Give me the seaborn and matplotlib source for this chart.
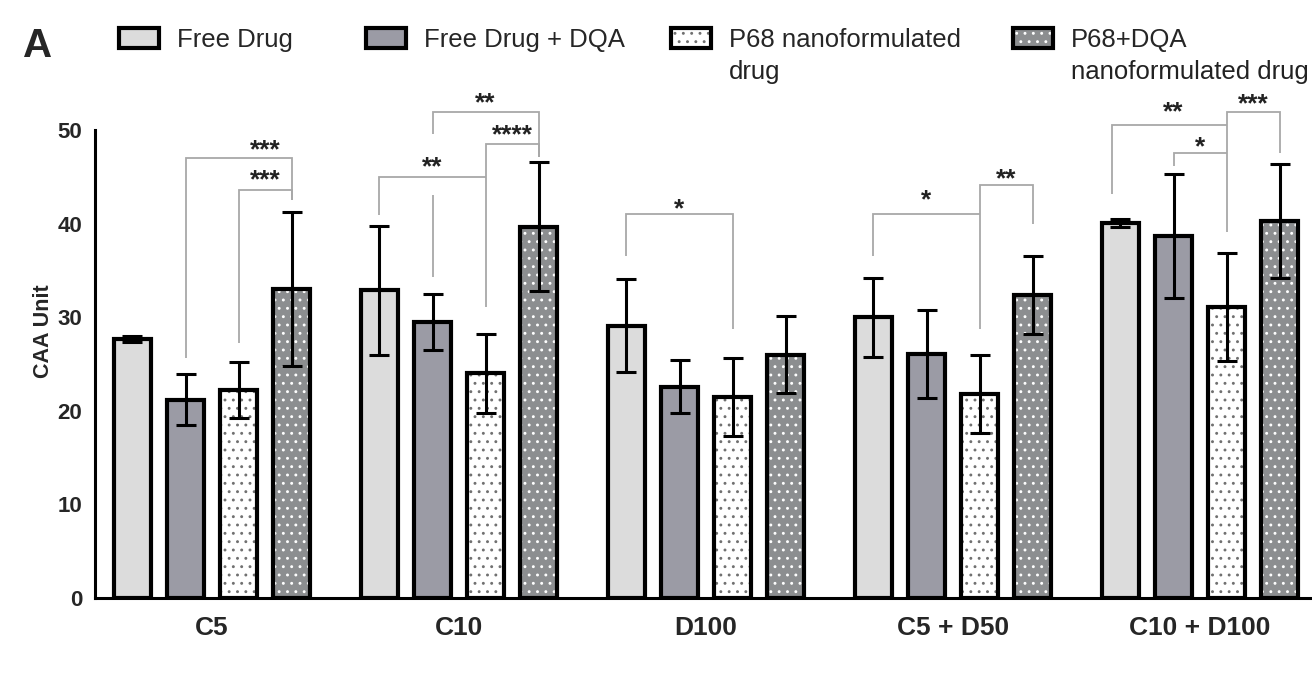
import numpy as np
import pandas as pd
import matplotlib
matplotlib.use("Agg")
import matplotlib.pyplot as plt
import seaborn as sns
from matplotlib.patches import Rectangle, Patch
from matplotlib.legend_handler import HandlerTuple

# ---------------- data ----------------
categories = ["C5", "C10", "D100", "C5 + D50", "C10 + D100"]
treatments = ["Free Drug", "Free Drug + DQA", "P68 nanoformulated drug",
              "P68+DQA nanoformulated drug"]
legend_labels = ["Free Drug", "Free Drug + DQA", "P68 nanoformulated\ndrug",
                 "P68+DQA\nnanoformulated drug"]

free_drug = [27.7, 32.9, 29.1, 30.0, 40.1]
free_drug_err = [0.3, 6.9, 5.0, 4.2, 0.4]
free_drug_dqa = [21.2, 29.5, 22.6, 26.1, 38.7]
free_drug_dqa_err = [2.7, 3.0, 2.8, 4.7, 6.6]
p68 = [22.2, 24.0, 21.5, 21.8, 31.1]
p68_err = [3.0, 4.2, 4.2, 4.2, 5.8]
p68_dqa = [33.0, 39.7, 26.0, 32.4, 40.3]
p68_dqa_err = [8.2, 6.9, 4.1, 4.2, 6.1]

yticks = [0, 10, 20, 30, 40, 50]

# significance brackets: group, left slot, right slot, top, left foot, right foot
brackets = [
    (0, 1, 3, 47.0, 25.6, 42.5),
    (0, 2, 3, 43.6, 27.2, 42.5),
    (1, 1, 3, 51.9, 49.6, 47.1),
    (1, 2, 3, 48.5, 31.1, 47.1),
    (1, 0, 2, 45.0, 40.9, 45.0),
    (2, 0, 2, 41.0, 36.6, 28.8),
    (3, 0, 2, 41.0, 36.6, 41.0),
    (3, 2, 3, 44.1, 28.8, 40.0),
    (4, -0.15, 2, 50.5, 43.2, 50.5),
    (4, 1, 2, 47.6, 46.2, 47.6),
    (4, 2, 3, 51.9, 39.1, 47.6),
]
stray_lines = [(1, 1, 43.1, 34.3)]  # group, slot, top, bottom
stars = [
    (0, 2.5, 48.7, "***"), (0, 2.5, 45.4, "***"),
    (1, 2.0, 53.7, "**"), (1, 2.5, 50.2, "****"), (1, 1.0, 46.8, "**"),
    (2, 1.0, 42.3, "*"),
    (3, 1.0, 43.3, "*"), (3, 2.5, 45.6, "**"),
    (4, 1.0, 52.7, "**"), (4, 1.5, 49.0, "*"), (4, 2.5, 53.6, "***"),
]

# ---------------- styles ----------------
face_colors = ["#dcdcdc", "#9b9ba5", "#ffffff", "#8c8e90"]
hatches = [None, None, "..", ".."]
dot_colors = [None, None, "#707070", "#ffffff"]
EDGE_LW = 3.0

sns.set_style("white")
plt.rcParams["font.family"] = ["Liberation Sans", "DejaVu Sans"]
plt.rcParams["hatch.linewidth"] = 0.9

values = [free_drug, free_drug_dqa, p68, p68_dqa]
errors = [free_drug_err, free_drug_dqa_err, p68_err, p68_dqa_err]
df = pd.DataFrame({
    "category": np.repeat([categories], 4, axis=0).ravel(),
    "treatment": np.repeat(treatments, len(categories)),
    "value": np.concatenate(values),
})

fig = plt.figure(figsize=(13.12, 6.8), dpi=100)
ax = fig.add_axes([95 / 1312, 1 - 598 / 680, 1 - 95 / 1312, (598 - 74) / 680])

sns.barplot(data=df, x="category", y="value", hue="treatment",
            order=categories, hue_order=treatments,
            palette=dict(zip(treatments, face_colors)), saturation=1,
            width=0.86, gap=0.30, errorbar=None, legend=False, ax=ax)

bars = sorted(ax.patches, key=lambda p: p.get_x())
centers = np.zeros((len(categories), 4))
for i, p in enumerate(bars):
    g, s = divmod(i, 4)
    centers[g, s] = p.get_x() + p.get_width() / 2
    if hatches[s]:
        p.set_hatch(hatches[s])
        p.set_edgecolor(dot_colors[s])
        p.set_linewidth(0)
        ax.add_patch(Rectangle((p.get_x(), p.get_y()), p.get_width(), p.get_height(),
                               fill=False, edgecolor="black", linewidth=EDGE_LW,
                               zorder=1.5))
    else:
        p.set_edgecolor("black")
        p.set_linewidth(EDGE_LW)

# error bars
for s in range(4):
    ax.errorbar(centers[:, s], values[s], yerr=errors[s], fmt="none",
                ecolor="black", elinewidth=2.2, capsize=7, capthick=2.2, zorder=3)


def slot_x(g, s):
    return centers[g, 0] + s * (centers[g, 1] - centers[g, 0])


bracket_kw = dict(color="#a8a8a8", lw=1.3, zorder=2.5, solid_capstyle="butt",
                  solid_joinstyle="miter", clip_on=False)
for g, sl, sr, top, lf, rf in brackets:
    xl, xr = slot_x(g, sl), slot_x(g, sr)
    ax.plot([xl, xl, xr, xr], [lf, top, top, rf], **bracket_kw)
for g, s, top, bot in stray_lines:
    x = slot_x(g, s)
    ax.plot([x, x], [bot, top], **bracket_kw)
STAR_FS = 19
for g, s, y, lab in stars:
    ax.annotate(lab, (slot_x(g, s), y), xytext=(0, -0.55 * STAR_FS),
                textcoords="offset points", ha="center", va="baseline",
                fontsize=STAR_FS, fontweight="bold", color="#222222")

# axes styling
ax.set_xlim(-0.474, 4.453)
ax.set_ylim(0, 56)
ax.set_yticks(yticks)
ax.spines["left"].set_bounds(0, 50)
for side in ["top", "right"]:
    ax.spines[side].set_visible(False)
for side in ["left", "bottom"]:
    ax.spines[side].set_linewidth(2.2)
    ax.spines[side].set_color("black")
ax.tick_params(axis="y", direction="out", length=7, width=2.2, color="black",
               labelsize=16, pad=2)
ax.tick_params(axis="x", direction="out", length=9, width=2.2, color="black",
               labelsize=19, pad=4)
for lab in ax.get_xticklabels() + ax.get_yticklabels():
    lab.set_fontweight("bold")
ax.set_xlabel("")
ax.set_ylabel("CAA Unit", fontsize=15.5, fontweight="bold")
ax.yaxis.set_label_coords(-0.0335, 0.51)
ax.grid(False)

# legend, one entry per column position
LEG_FS = 18.5
leg_x = [119, 366, 671, 1013]
legends = []
for s in range(4):
    if hatches[s]:
        handle = (Patch(facecolor=face_colors[s], hatch=hatches[s],
                        edgecolor=dot_colors[s], linewidth=0),
                  Patch(fill=False, edgecolor="black", linewidth=EDGE_LW))
    else:
        handle = (Patch(facecolor=face_colors[s], edgecolor="black", linewidth=EDGE_LW),)
    first = legend_labels[s].split("\n")[0]
    leg = fig.legend([handle], [first], loc="upper left",
                     bbox_to_anchor=(leg_x[s] / 1312, 1 - 28 / 680),
                     frameon=False, fontsize=LEG_FS, borderpad=0, borderaxespad=0,
                     handlelength=1.55, handleheight=0.78, handletextpad=0.72,
                     handler_map={tuple: HandlerTuple(ndivide=1, pad=0)})
    legends.append(leg)

fig.canvas.draw()
for s, leg in enumerate(legends):
    parts = legend_labels[s].split("\n")
    if len(parts) > 1:
        bb = leg.get_texts()[0].get_window_extent()
        fig.text(bb.x0 / 1312, (bb.y0 - 32) / 680, parts[1], fontsize=LEG_FS,
                 va="bottom", ha="left", color="#222222")

fig.text(23 / 1312, 1 - 57 / 680, "A", fontsize=29, fontweight="bold", va="baseline")

fig.savefig("out.png", dpi=100)
